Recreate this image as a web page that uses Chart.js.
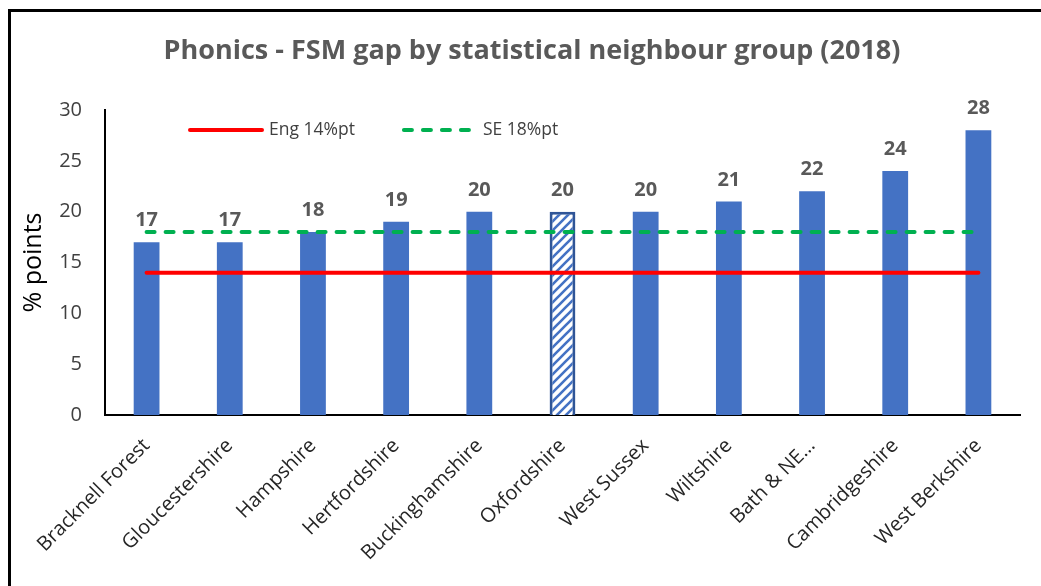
<!DOCTYPE html>
<html lang="en">
<head>
    <meta charset="UTF-8">
    <title>Phonics - FSM gap</title>
    <script src="https://cdn.jsdelivr.net/npm/chart.js"></script>
    <style>
        body {
            margin: 0;
            background: #fff;
            overflow: hidden;
        }
        #frame {
            position: absolute;
            left: 8px;
            top: 9px;
            width: 1100px;
            height: 700px;
            border-left: 3px solid #000;
            border-top: 3px solid #000;
        }
        #chartCanvas {
            position: absolute;
            left: 0;
            top: 0;
        }
    </style>
</head>
<body>
    <div id="frame"></div>
    <canvas id="chartCanvas" width="1041" height="586"></canvas>

    <script>
        // data
        const categories = ['Bracknell Forest', 'Gloucestershire', 'Hampshire', 'Hertfordshire', 'Buckinghamshire',
            'Oxfordshire', 'West Sussex', 'Wiltshire', 'Bath & NE\u2026', 'Cambridgeshire', 'West Berkshire'];
        const fsmGap = [17, 17, 18, 19, 20, 20, 20, 21, 22, 24, 28];
        const engGap = [14, 14, 14, 14, 14, 14, 14, 14, 14, 14, 14];
        const seGap = [18, 18, 18, 18, 18, 18, 18, 18, 18, 18, 18];
        const engLabel = 'Eng 14%pt';
        const seLabel = 'SE 18%pt';
        const highlighted = 'Oxfordshire';

        const blue = '#4472C4';
        const fontFamily = '"Open Sans", sans-serif';

        // diagonal stripes for the highlighted bar
        const makeHatch = () => {
            const c = document.createElement('canvas');
            c.width = 9;
            c.height = 9;
            const g = c.getContext('2d');
            g.fillStyle = '#fff';
            g.fillRect(0, 0, 9, 9);
            g.strokeStyle = blue;
            g.lineWidth = 2.6;
            g.beginPath();
            g.moveTo(-1, 10); g.lineTo(10, -1);
            g.moveTo(-3, 3); g.lineTo(3, -3);
            g.moveTo(6, 12); g.lineTo(12, 6);
            g.stroke();
            return g.createPattern(c, 'repeat');
        };
        const hatch = makeHatch();

        const barColors = categories.map(c => c === highlighted ? hatch : blue);
        const barBorders = categories.map(c => c === highlighted ? '#2F5597' : blue);
        const barBorderWidths = categories.map(c => c === highlighted ? 3 : 0);

        // value labels above the bars
        const valueLabels = {
            id: 'valueLabels',
            afterDatasetsDraw(chart) {
                const ctx = chart.ctx;
                const meta = chart.getDatasetMeta(0);
                ctx.save();
                ctx.font = 'bold 20px ' + fontFamily;
                ctx.fillStyle = '#595959';
                ctx.textAlign = 'center';
                ctx.textBaseline = 'alphabetic';
                meta.data.forEach((bar, i) => {
                    ctx.fillText(String(chart.data.datasets[0].data[i]), bar.x, bar.y - 16);
                });
                ctx.restore();
            }
        };

        // legend drawn inside the plot, like the original
        const innerLegend = {
            id: 'innerLegend',
            afterDatasetsDraw(chart, args, opts) {
                const ctx = chart.ctx;
                let x = opts.x;
                ctx.save();
                ctx.font = '17.5px ' + fontFamily;
                ctx.textBaseline = 'middle';
                chart.data.datasets.filter(d => d.type === 'line').forEach(d => {
                    ctx.strokeStyle = d.borderColor;
                    ctx.lineWidth = d.borderWidth;
                    ctx.lineCap = 'round';
                    ctx.setLineDash(d.borderDash || []);
                    ctx.beginPath();
                    ctx.moveTo(x, opts.y);
                    ctx.lineTo(x + opts.lineLen, opts.y);
                    ctx.stroke();
                    ctx.setLineDash([]);
                    x += opts.lineLen + opts.textGap;
                    ctx.fillStyle = '#404040';
                    ctx.fillText(d.label, x, opts.y);
                    x += ctx.measureText(d.label).width + opts.itemGap;
                });
                ctx.restore();
            }
        };

        new Chart(document.getElementById('chartCanvas'), {
            data: {
                labels: categories,
                datasets: [
                    {
                        type: 'bar',
                        label: 'FSM gap',
                        data: fsmGap,
                        backgroundColor: barColors,
                        borderColor: barBorders,
                        borderWidth: barBorderWidths,
                        barPercentage: 0.31,
                        categoryPercentage: 1,
                        order: 2
                    },
                    {
                        type: 'line',
                        label: engLabel,
                        data: engGap,
                        borderColor: '#FF0000',
                        borderWidth: 4,
                        borderCapStyle: 'round',
                        pointRadius: 0,
                        order: 1
                    },
                    {
                        type: 'line',
                        label: seLabel,
                        data: seGap,
                        borderColor: '#00B050',
                        borderWidth: 4,
                        borderDash: [8, 11],
                        borderCapStyle: 'round',
                        pointRadius: 0,
                        order: 0
                    }
                ]
            },
            options: {
                responsive: false,
                animation: false,
                layout: {
                    // wider left padding puts the title centre where the original has it
                    padding: { left: 44, right: 21, top: 0, bottom: 11 }
                },
                plugins: {
                    legend: { display: false },
                    tooltip: { enabled: false },
                    title: {
                        display: true,
                        text: 'Phonics - FSM gap by statistical neighbour group (2018)',
                        color: '#595959',
                        font: { family: fontFamily, size: 27, weight: 'bold' },
                        padding: { top: 35, bottom: 42.6 }
                    },
                    innerLegend: { x: 190, y: 130, lineLen: 72, textGap: 7, itemGap: 49 }
                },
                scales: {
                    x: {
                        grid: { display: false, drawTicks: false },
                        border: { display: true, color: '#000', width: 2 },
                        ticks: {
                            color: '#262626',
                            font: { family: fontFamily, size: 20 },
                            minRotation: 45,
                            maxRotation: 45,
                            autoSkip: false,
                            padding: 19
                        },
                        afterFit: s => { s.height = 160; }
                    },
                    y: {
                        min: 0,
                        max: 30,
                        grid: { display: false, drawTicks: false },
                        border: { display: true, color: '#000', width: 2 },
                        ticks: {
                            stepSize: 5,
                            color: '#404040',
                            font: { family: fontFamily, size: 20 },
                            padding: 23
                        },
                        title: {
                            display: true,
                            text: '% points',
                            color: '#000',
                            font: { family: fontFamily, size: 25 },
                            padding: { top: -25, bottom: 0 }
                        },
                        afterFit: s => { s.width = 61; }
                    }
                }
            },
            plugins: [valueLabels, innerLegend]
        });
    </script>
</body>
</html>
